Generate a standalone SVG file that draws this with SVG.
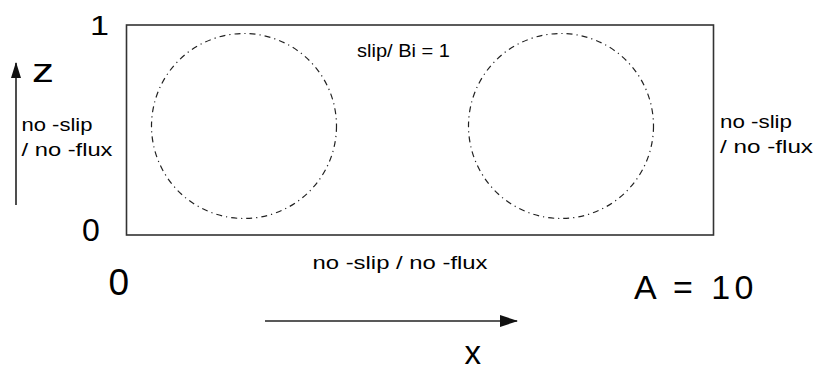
<svg xmlns="http://www.w3.org/2000/svg" width="816" height="370" viewBox="0 0 816 370">
<style>
text{font-family:"Liberation Sans",Arial,sans-serif;fill:#000}
.lbl{font-size:19px}
.roll{fill:none;stroke:#222;stroke-width:1.2;stroke-dasharray:6 4 1.2 4}
.axis{stroke:#222;stroke-width:1.6;fill:none}
</style>
<defs>
<marker id="ah" viewBox="0 0 18 12" refX="17" refY="6" markerWidth="18" markerHeight="12" markerUnits="userSpaceOnUse" orient="auto">
<path d="M0,0 L18,6 L0,12 z" fill="#111"/>
</marker>
<marker id="ahz" viewBox="0 0 16 10" refX="15" refY="5" markerWidth="16" markerHeight="10" markerUnits="userSpaceOnUse" orient="auto">
<path d="M0,0 L16,5 L0,10 z" fill="#111"/>
</marker>
</defs>
<rect width="816" height="370" fill="#fff"/>
<g id="domain">
<rect x="126.5" y="25" width="587" height="210" fill="none" stroke="#333" stroke-width="1.6"/>
</g>
<g id="roll-left">
<circle class="roll" cx="244" cy="126" r="92.5"/>
</g>
<g id="roll-right">
<circle class="roll" cx="561" cy="126" r="92.5"/>
</g>
<g id="connectors">
<line class="axis" x1="16" y1="205" x2="16" y2="63" marker-end="url(#ahz)"/>
<line class="axis" x1="265" y1="321" x2="517" y2="321" marker-end="url(#ah)"/>
</g>
<g id="label-top">
<text x="357" y="57" font-size="18" textLength="93" lengthAdjust="spacingAndGlyphs">slip/ Bi = 1</text>
</g>
<g id="label-left">
<text class="lbl" x="21.5" y="131" textLength="71" lengthAdjust="spacingAndGlyphs">no -slip</text>
<text class="lbl" x="21.5" y="156" textLength="91" lengthAdjust="spacingAndGlyphs">/ no -flux</text>
</g>
<g id="label-right">
<text class="lbl" x="720" y="128" textLength="72" lengthAdjust="spacingAndGlyphs">no -slip</text>
<text class="lbl" x="720" y="153" textLength="93" lengthAdjust="spacingAndGlyphs">/ no -flux</text>
</g>
<g id="label-bottom">
<text x="312.5" y="269" font-size="17.5" textLength="175" lengthAdjust="spacingAndGlyphs">no -slip / no -flux</text>
</g>
<g id="ticks">
<text x="90" y="35" font-size="28.5" textLength="19" lengthAdjust="spacingAndGlyphs">1</text>
<text x="82" y="241" font-size="32">0</text>
<text x="108.5" y="295" font-size="37">0</text>
</g>
<g id="axis-labels">
<text x="32" y="82" font-size="34" textLength="22" lengthAdjust="spacingAndGlyphs">z</text>
<text x="464.5" y="364" font-size="33">x</text>
</g>
<g id="aspect">
<text x="634" y="299" font-size="34" textLength="119.5" lengthAdjust="spacing">A = 10</text>
</g>
</svg>
